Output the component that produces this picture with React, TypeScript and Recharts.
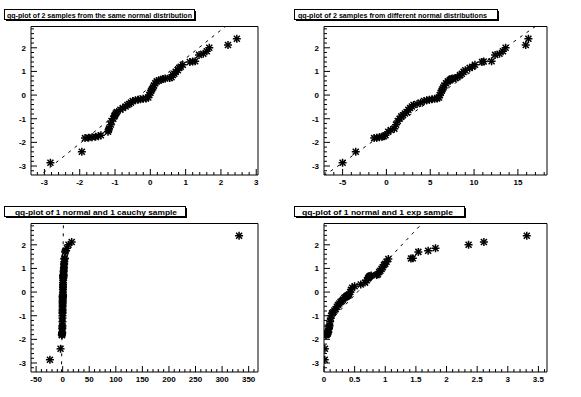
import React from 'react';
import { ScatterChart, Scatter, XAxis, YAxis, ReferenceLine, ReferenceArea } from 'recharts';

// sorted quantiles of the normal sample shown on the y axis of every pad
const yNormal = [
  -2.86, -2.4,
  -1.82, -1.8, -1.78, -1.76, -1.74, -1.7,
  -1.55, -1.48, -1.42,
  -1.25, -1.1, -1.0, -0.9, -0.85, -0.78, -0.72,
  -0.62, -0.55, -0.48, -0.42, -0.38, -0.32,
  -0.25, -0.22, -0.2, -0.18, -0.16, -0.14, -0.1,
  0.0, 0.1, 0.18, 0.25, 0.32, 0.4, 0.5,
  0.58, 0.62, 0.65, 0.68, 0.7,
  0.72, 0.75, 0.85, 0.9, 0.98, 1.05, 1.15, 1.2, 1.28,
  1.4, 1.42, 1.43,
  1.7, 1.75, 1.85, 2.0,
  2.12, 2.38,
];

// x quantiles, one list per pad
const xSameNormal = [
  -2.83, -1.94,
  -1.85, -1.75, -1.65, -1.55, -1.47, -1.4,
  -1.2, -1.18, -1.17,
  -1.12, -1.1, -1.05, -1.02, -1.0, -0.98, -0.95,
  -0.85, -0.78, -0.7, -0.65, -0.6, -0.55,
  -0.5, -0.42, -0.35, -0.28, -0.2, -0.12, -0.06,
  -0.03, 0.0, 0.02, 0.05, 0.08, 0.1, 0.14,
  0.18, 0.24, 0.3, 0.36, 0.42,
  0.55, 0.6, 0.64, 0.68, 0.72, 0.78, 0.82, 0.86, 0.92,
  1.12, 1.2, 1.27,
  1.38, 1.5, 1.6, 1.67,
  2.2, 2.45,
];

const xOtherNormal = [
  -5.0, -3.5,
  -1.4, -1.1, -0.8, -0.5, -0.3, -0.1,
  0.2, 0.5, 0.9,
  1.1, 1.3, 1.5, 1.7, 1.9, 2.1, 2.3,
  2.5, 2.7, 2.9, 3.1, 3.5, 3.9,
  4.3, 4.6, 4.9, 5.2, 5.5, 5.8, 6.0,
  6.1, 6.2, 6.3, 6.4, 6.5, 6.6, 6.8,
  7.0, 7.2, 7.3, 7.4, 7.5,
  7.9, 8.1, 8.4, 8.6, 8.8, 9.0, 9.5, 9.8, 10.1,
  10.9, 11.1, 12.0,
  12.4, 12.9, 13.3, 13.6,
  15.9, 16.2,
];

const xCauchy = [
  -24, -4,
  -1.6, -1.4, -1.2, -1.1, -1.0, -0.9,
  -0.8, -0.7, -0.6,
  -0.5, -0.45, -0.4, -0.35, -0.3, -0.25, -0.2,
  -0.15, -0.1, -0.05, 0.0, 0.05, 0.1,
  0.15, 0.2, 0.25, 0.3, 0.35, 0.4, 0.45,
  0.5, 0.55, 0.6, 0.65, 0.7, 0.8, 0.9,
  1.0, 1.1, 1.2, 1.3, 1.4,
  1.5, 1.6, 1.8, 2.0, 2.2, 2.4, 2.6, 2.8, 3.0,
  3.3, 3.6, 4.0,
  4.5, 5.5, 8, 11,
  17, 332,
];

const xExp = [
  0.012, 0.015,
  0.03, 0.04, 0.05, 0.055, 0.06, 0.07,
  0.08, 0.085, 0.09,
  0.1, 0.11, 0.12, 0.13, 0.15, 0.17, 0.19,
  0.21, 0.23, 0.25, 0.27, 0.29, 0.31,
  0.33, 0.35, 0.36, 0.37, 0.38, 0.39, 0.41,
  0.43, 0.44, 0.46, 0.5, 0.6, 0.67, 0.7,
  0.72, 0.73, 0.74, 0.75, 0.77,
  0.86, 0.88, 0.9, 0.92, 0.94, 0.96, 0.98, 1.0, 1.02,
  1.05, 1.42, 1.45,
  1.54, 1.7, 1.82, 2.36,
  2.61, 3.31,
];

const titles = [
  'qq-plot of 2 samples from the same normal distribution',
  'qq-plot of 2 samples from different normal distributions',
  'qq-plot of 1 normal and 1 cauchy sample',
  'qq-plot of 1 normal and 1 exp sample',
];

// reference line through the quartiles: [slope, intercept]
const fitSame = [1.2, 0.35];
const fitOther = [0.262, -1.55];
const fitCauchy = [1.7, 0.5];
const fitExp = [2.75, -1.5];

const yDomain = [-3.38, 2.9];
const yMajor = [-3, -2, -1, 0, 1, 2];

const FONT = '"Liberation Sans", Arial, Helvetica, sans-serif';

function buildTicks(domain: number[], step: number) {
  const out: number[] = [];
  const start = Math.ceil(domain[0] / step - 1e-9);
  for (let k = start; k * step <= domain[1] + 1e-9; k++) out.push(+(k * step).toFixed(5));
  return out;
}

const isMajor = (v: number, major: number[]) => major.some((m) => Math.abs(m - v) < 1e-6);

function Asterisk(props: any) {
  const { cx, cy } = props;
  if (cx == null || cy == null) return null;
  const r = 4;
  const d = 3;
  return (
    <g stroke="#000" strokeWidth={1.5}>
      <line x1={cx - r} y1={cy} x2={cx + r} y2={cy} />
      <line x1={cx} y1={cy - r} x2={cx} y2={cy + r} />
      <line x1={cx - d} y1={cy - d} x2={cx + d} y2={cy + d} />
      <line x1={cx - d} y1={cy + d} x2={cx + d} y2={cy - d} />
    </g>
  );
}

function QQPad({ xs, xDomain, xMajor, xStep, fit, left, top, width, height, marginLeft, marginRight }: any) {
  const data = yNormal.map((y, i) => ({ x: xs[i], y }));
  const xTicks = buildTicks(xDomain, xStep);
  const yTicks = buildTicks(yDomain, 0.2);
  const [slope, intercept] = fit;

  const xTick = (p: any) => {
    const v = p.payload.value;
    const major = isMajor(v, xMajor);
    return (
      <g>
        <line x1={p.x} y1={p.y} x2={p.x} y2={p.y - (major ? 6 : 3)} stroke="#000" />
        {major && (
          <text x={p.x} y={p.y + 10} textAnchor="middle" fontSize={8} fontWeight="bold" fontFamily={FONT} fill="#000">
            {String(v)}
          </text>
        )}
      </g>
    );
  };

  const yTick = (p: any) => {
    const v = p.payload.value;
    const major = isMajor(v, yMajor);
    return (
      <g>
        <line x1={p.x} y1={p.y} x2={p.x + (major ? 6 : 3)} y2={p.y} stroke="#000" />
        {major && (
          <text x={p.x - 5} y={p.y + 3} textAnchor="end" fontSize={8} fontWeight="bold" fontFamily={FONT} fill="#000">
            {String(v)}
          </text>
        )}
      </g>
    );
  };

  return (
    <div style={{ position: 'absolute', left, top }}>
      <ScatterChart width={width} height={height} margin={{ top: 26.5, right: marginRight, bottom: 2, left: marginLeft }}>
        <XAxis
          type="number"
          dataKey="x"
          domain={xDomain}
          ticks={xTicks}
          interval={0}
          allowDataOverflow
          axisLine={false}
          tickLine={false}
          tickSize={0}
          tickMargin={0}
          height={21}
          tick={xTick}
        />
        <YAxis
          type="number"
          dataKey="y"
          domain={yDomain}
          ticks={yTicks}
          interval={0}
          allowDataOverflow
          axisLine={false}
          tickLine={false}
          tickSize={0}
          tickMargin={0}
          width={25}
          tick={yTick}
        />
        <ReferenceLine
          segment={[
            { x: xDomain[0], y: slope * xDomain[0] + intercept },
            { x: xDomain[1], y: slope * xDomain[1] + intercept },
          ]}
          stroke="#000"
          strokeWidth={1}
          strokeDasharray="3 5"
          ifOverflow="hidden"
        />
        <Scatter data={data} shape={Asterisk} isAnimationActive={false} />
        <ReferenceArea
          x1={xDomain[0]}
          x2={xDomain[1]}
          y1={yDomain[0]}
          y2={yDomain[1]}
          fill="none"
          fillOpacity={0}
          stroke="#000"
          strokeWidth={1}
          ifOverflow="visible"
        />
      </ScatterChart>
    </div>
  );
}

function TitleBox({ x, y, w, h, text, tx, tw }: any) {
  return (
    <g>
      <rect x={x + 2} y={y + 2} width={w} height={h} fill="#000" />
      <rect x={x + 0.5} y={y + 0.5} width={w} height={h} fill="#fff" stroke="#000" strokeWidth={1} />
      <text
        x={tx}
        y={y + h - 1.5}
        fontSize={7.5}
        fontWeight="bold"
        fontFamily={FONT}
        textLength={tw}
        lengthAdjust="spacingAndGlyphs"
        fill="#000"
      >
        {text}
      </text>
    </g>
  );
}

export default function App() {
  return (
    <div style={{ position: 'absolute', left: 0, top: 0, width: 581, height: 397, background: '#fff', overflow: 'hidden' }}>
      <QQPad xs={xSameNormal} xDomain={[-3.38, 3.05]} xMajor={[-3, -2, -1, 0, 1, 2, 3]} xStep={0.2} fit={fitSame}
        left={0} top={0} width={290} height={198} marginLeft={6} marginRight={32} />
      <QQPad xs={xOtherNormal} xDomain={[-7.12, 18.32]} xMajor={[-5, 0, 5, 10, 15]} xStep={1} fit={fitOther}
        left={290} top={0} width={291} height={198} marginLeft={9} marginRight={34} />
      <QQPad xs={xCauchy} xDomain={[-59.6, 367.6]} xMajor={[-50, 0, 50, 100, 150, 200, 250, 300, 350]} xStep={10} fit={fitCauchy}
        left={0} top={197} width={290} height={198} marginLeft={6} marginRight={32} />
      <QQPad xs={xExp} xDomain={[0, 3.64]} xMajor={[0, 0.5, 1, 1.5, 2, 2.5, 3, 3.5]} xStep={0.1} fit={fitExp}
        left={290} top={197} width={291} height={198} marginLeft={9} marginRight={34} />
      <svg width={581} height={397} style={{ position: 'absolute', left: 0, top: 0, pointerEvents: 'none' }}>
        <TitleBox x={4} y={9} w={190} h={10} text={titles[0]} tx={7} tw={185} />
        <TitleBox x={294} y={9} w={203} h={10} text={titles[1]} tx={298} tw={189} />
        <TitleBox x={4} y={206} w={181} h={10} text={titles[2]} tx={15} tw={162} />
        <TitleBox x={294} y={206} w={170} h={10} text={titles[3]} tx={302} tw={151} />
      </svg>
    </div>
  );
}
